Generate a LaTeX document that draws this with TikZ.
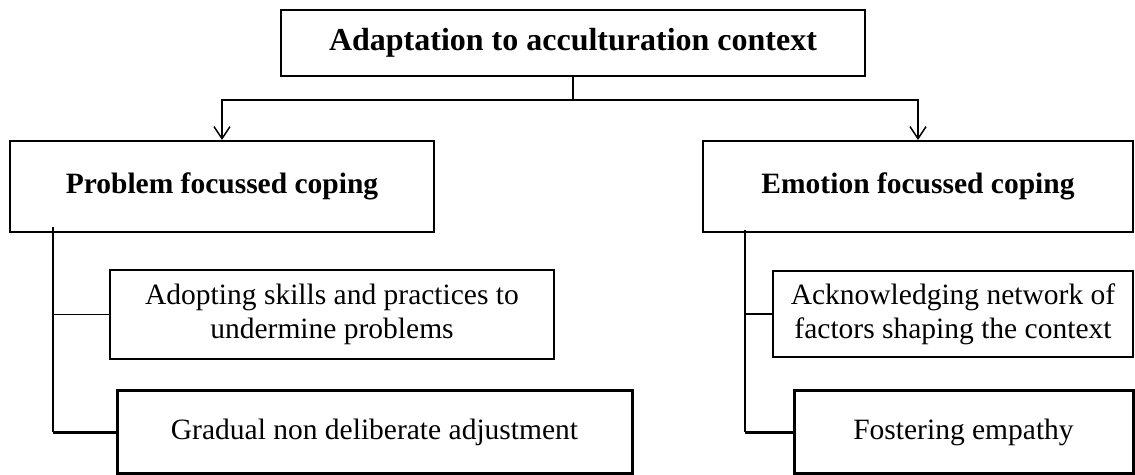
\documentclass[tikz,border=0pt]{standalone}
\usepackage{fontspec}
\setmainfont{Liberation Serif}
\usetikzlibrary{arrows.meta}

\begin{document}
\begin{tikzpicture}[x=0.5pt,y=-0.5pt,
  box/.style={draw,line width=1pt,inner sep=0pt,align=center,
    font=\fontsize{14.75}{17}\selectfont},
  headbox/.style={box,font=\fontsize{14.75}{17}\selectfont\bfseries},
  thickbox/.style={box,line width=1.5pt},
  link/.style={line width=0.75pt},
  thicklink/.style={line width=1.5pt},
  arr/.style={link,-{Straight Barb[length=6pt,width=8pt]}}]

  \useasboundingbox (0,0) rectangle (1135,475);

  \node[headbox,minimum width=292pt,minimum height=33pt,
    font=\fontsize{16}{19}\selectfont\bfseries] (top) at (573,43) {Adaptation to acculturation context};

  \node[headbox,minimum width=212pt,minimum height=45.5pt] (prob) at (222,186.5) {Problem focussed coping};
  \node[headbox,minimum width=215pt,minimum height=45.5pt] (emo) at (918,186.5) {Emotion focussed coping};

  \node[box,minimum width=222pt,minimum height=44.5pt] (adopt) at (332,314.5) {Adopting skills and practices to\\undermine problems};
  \node[thickbox,minimum width=257.5pt,minimum height=41.5pt] (grad) at (374.5,432.5) {Gradual non deliberate adjustment};

  \node[box,minimum width=180pt,minimum height=43pt] (ack) at (953,314) {Acknowledging network of\\factors shaping the context};
  \node[thickbox,minimum width=169.5pt,minimum height=41.5pt] (fost) at (963.5,432.5) {Fostering empathy};

  \coordinate (split) at (573,100);
  \draw[link] (top.south) -- (split);
  \draw[arr] (split) -| (prob.north);
  \draw[arr] (split) -| (emo.north);

  \coordinate (pspine) at (53,227);
  \coordinate (pend) at (pspine |- grad.west);
  \draw[link] (pspine) |- (adopt.west);
  \draw[link] (pspine) -- (pend);
  \draw[thicklink] (pend) -- (grad.west);

  \coordinate (espine) at (745,230);
  \coordinate (eend) at (espine |- fost.west);
  \draw[link] (espine) |- (ack.west);
  \draw[link] (espine) -- (eend);
  \draw[thicklink] (eend) -- (fost.west);

\end{tikzpicture}
\end{document}
